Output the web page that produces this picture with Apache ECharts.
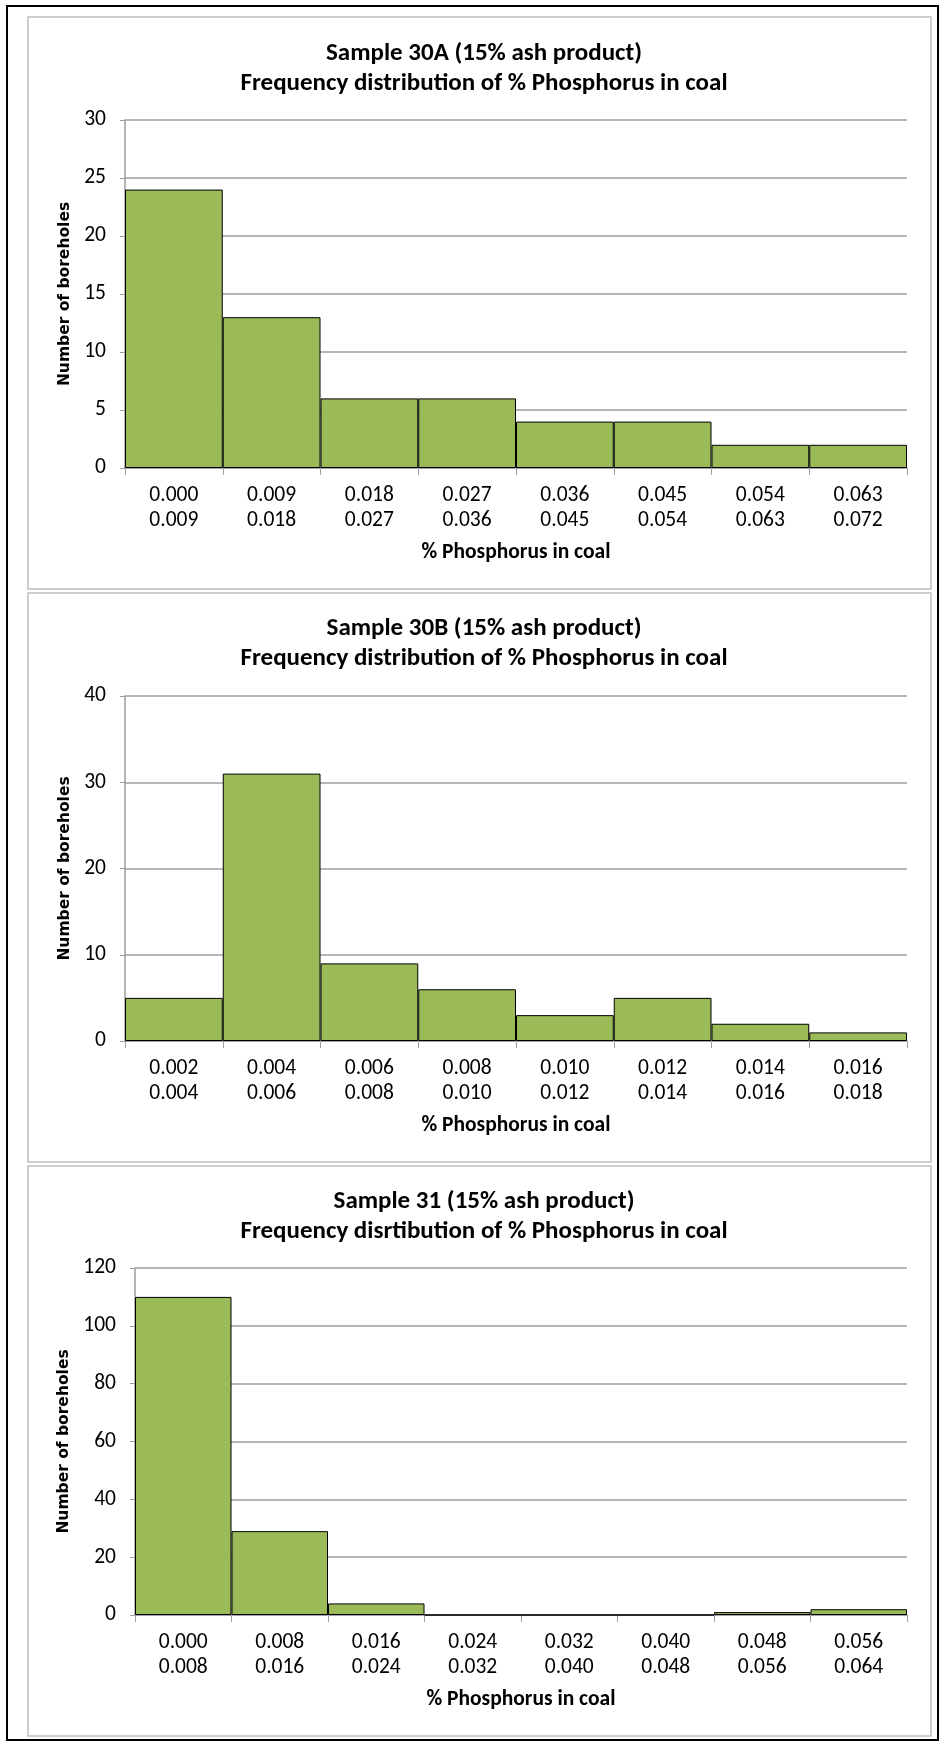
<!DOCTYPE html>
<html>
<head>
<meta charset="utf-8">
<script src="https://cdn.jsdelivr.net/npm/echarts@6/dist/echarts.min.js"></script>
<style>
  html, body { margin: 0; padding: 0; background: #fff; }
  #chart { width: 944px; height: 1746px; }
</style>
</head>
<body>
<div id="chart"></div>
<script>
// bins and counts
const binsA = ['0.000\n0.009', '0.009\n0.018', '0.018\n0.027', '0.027\n0.036', '0.036\n0.045', '0.045\n0.054', '0.054\n0.063', '0.063\n0.072'];
const countsA = [24, 13, 6, 6, 4, 4, 2, 2];

const binsB = ['0.002\n0.004', '0.004\n0.006', '0.006\n0.008', '0.008\n0.010', '0.010\n0.012', '0.012\n0.014', '0.014\n0.016', '0.016\n0.018'];
const countsB = [5, 31, 9, 6, 3, 5, 2, 1];

const bins31 = ['0.000\n0.008', '0.008\n0.016', '0.016\n0.024', '0.024\n0.032', '0.032\n0.040', '0.040\n0.048', '0.048\n0.056', '0.056\n0.064'];
const counts31 = [110, 29, 4, 0, 0, 0, 1, 2];

const titles = [
  'Sample 30A (15% ash product)\nFrequency distribution of % Phosphorus in coal',
  'Sample 30B (15% ash product)\nFrequency distribution of % Phosphorus in coal',
  'Sample 31 (15% ash product)\nFrequency disrtibution of % Phosphorus in coal'
];
const yMax = [30, 40, 120];
const yStep = [5, 10, 20];

const FONT = 'Carlito, "Liberation Sans Narrow", Lato, sans-serif';
const GRID_COLOR = '#9E9E9E';

// layout of each panel (px)
const panels = [
  { top: 17, height: 572, gridTop: 120, gridH: 348, left: 125, titleTop: 34, nameGap: 47 },
  { top: 593, height: 569, gridTop: 696, gridH: 345, left: 125, titleTop: 609, nameGap: 47 },
  { top: 1166, height: 570, gridTop: 1268, gridH: 347, left: 135, titleTop: 1182, nameGap: 57 }
];
const cats = [binsA, binsB, bins31];
const vals = [countsA, countsB, counts31];

const chart = echarts.init(document.getElementById('chart'));

const option = {
  animation: false,
  backgroundColor: '#fff',
  title: panels.map((p, i) => ({
    text: titles[i],
    left: 479,
    textAlign: 'center',
    top: p.titleTop,
    textStyle: { fontFamily: FONT, fontWeight: 'bold', fontSize: 25, lineHeight: 30, color: '#000' }
  })),
  grid: panels.map(p => ({ left: p.left, right: 37, top: p.gridTop, height: p.gridH })),
  xAxis: panels.map((p, i) => ({
    type: 'category',
    gridIndex: i,
    data: cats[i],
    name: '% Phosphorus in coal',
    nameLocation: 'middle',
    nameGap: 74,
    nameTextStyle: { fontFamily: FONT, fontWeight: 'bold', fontSize: 21.5, color: '#000' },
    axisLine: { lineStyle: { color: GRID_COLOR, width: 1.5 } },
    axisTick: { show: true, length: 7, lineStyle: { color: GRID_COLOR } },
    axisLabel: { fontFamily: FONT, fontSize: 21.5, color: '#000', lineHeight: 25, margin: 15 },
    splitLine: { show: false }
  })),
  yAxis: panels.map((p, i) => ({
    type: 'value',
    gridIndex: i,
    min: 0,
    max: yMax[i],
    interval: yStep[i],
    name: 'Number of boreholes',
    nameLocation: 'middle',
    nameGap: p.nameGap,
    nameTextStyle: { fontFamily: '"DejaVu Sans", sans-serif', fontWeight: 'bold', fontSize: 15.5, color: '#000' },
    axisLine: { show: true, lineStyle: { color: GRID_COLOR, width: 1.5 } },
    axisTick: { show: true, length: 5, lineStyle: { color: GRID_COLOR } },
    axisLabel: { fontFamily: FONT, fontSize: 21.5, color: '#000', margin: 19 },
    splitLine: { lineStyle: { color: GRID_COLOR, width: 1.5 } }
  })),
  series: panels.map((p, i) => ({
    type: 'bar',
    xAxisIndex: i,
    yAxisIndex: i,
    data: vals[i],
    barCategoryGap: 0,
    itemStyle: { color: '#9BBB59', borderColor: '#000', borderWidth: 1 }
  })),
  graphic: [
    { type: 'rect', shape: { x: 7, y: 6, width: 931, height: 1734 }, style: { fill: null, stroke: '#000', lineWidth: 2 }, silent: true }
  ].concat(panels.map(p => ({
    type: 'rect',
    shape: { x: 28, y: p.top, width: 903, height: p.height },
    style: { fill: null, stroke: '#BFBFBF', lineWidth: 1.5 },
    silent: true
  })))
};

chart.setOption(option);
</script>
</body>
</html>
